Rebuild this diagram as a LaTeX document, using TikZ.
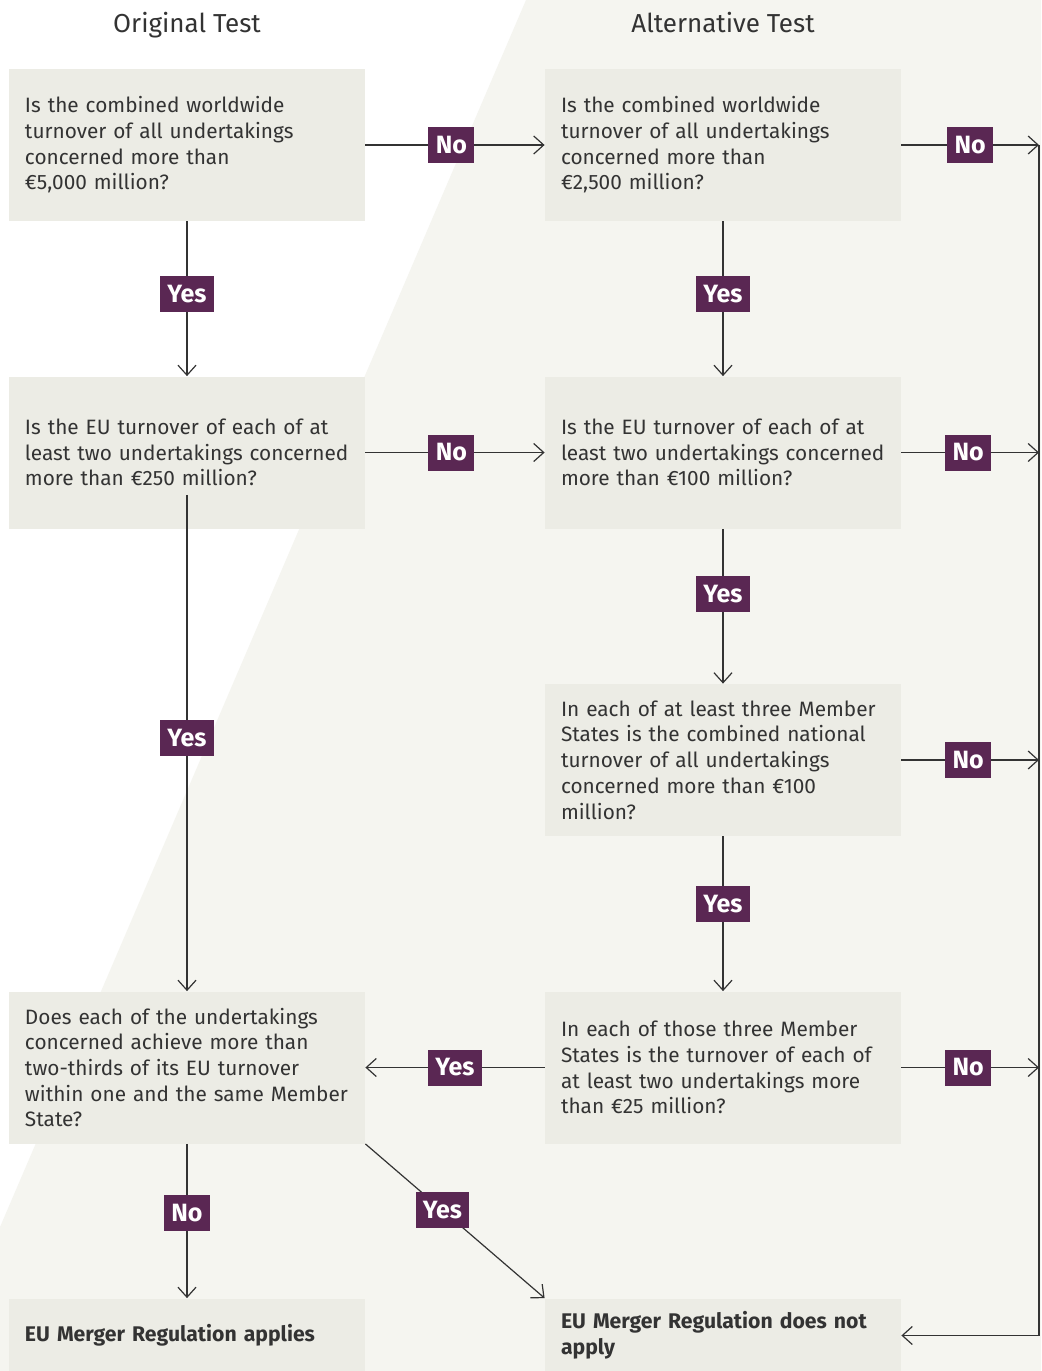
\documentclass[tikz,border=0pt]{standalone}
\usepackage{fontspec}
\setmainfont{Fira Sans}
\usepackage{tikz}
\usetikzlibrary{arrows.meta}
\definecolor{plum}{HTML}{5A2753}
\definecolor{boxgrey}{HTML}{ECECE5}
\definecolor{bgright}{HTML}{F5F5F0}
\definecolor{ink}{HTML}{333333}

\begin{document}
\begin{tikzpicture}[x=0.5pt, y=-0.5pt, node distance={153.75pt},
  >={Straight Barb[length=5pt,width=9pt]},
  main/.style = {fill=boxgrey, text=ink, text width=162pt, minimum height=76pt, inner xsep=8pt, align=left, font=\fontsize{10.4pt}{12.85pt}\selectfont},
  last/.style = {main, minimum height=37pt, font=\fontsize{10.6pt}{12.85pt}\selectfont\bfseries},
  lab/.style = {fill=plum, text=white, inner xsep=3.7pt, minimum height=18pt, font=\fontsize{12.5pt}{14pt}\selectfont\bfseries},
  title/.style = {text=ink, text height=9pt, text depth=3pt, font=\fontsize{13pt}{15pt}\selectfont}]
\useasboundingbox (0,0) rectangle (1041,1371);
\fill[white] (0,0) rectangle (1041,1371);
\fill[bgright] (526,0) -- (1041,0) -- (1041,1371) -- (0,1371) -- (0,1227) -- cycle;
\coordinate (rail) at (1039,0);

\node[main] (1) at (187,145) {Is the combined worldwide\\turnover of all undertakings\\concerned more than\\€5,000 million?};
\node[main] (2) [right of=1, node distance=268pt] {Is the combined worldwide\\turnover of all undertakings\\concerned more than\\€2,500 million?};
\node[main] (3) [below of=1] {Is the EU turnover of each of at\\least two undertakings concerned\\more than €250 million?};
\node[main] (4) [below of=2] {Is the EU turnover of each of at\\least two undertakings concerned\\more than €100 million?};
\node[main] (5) [below of=4] {In each of at least three Member\\States is the combined national\\turnover of all undertakings\\concerned more than €100\\million?};
\node[main] (7) [below of=5] {In each of those three Member\\States is the turnover of each of\\at least two undertakings more\\than €25 million?};
\node[main] (6) [left of=7, node distance=268pt] {Does each of the undertakings\\concerned achieve more than\\two-thirds of its EU turnover\\within one and the same Member\\State?};
\node[last] (8) [below of=6, node distance=134pt] {EU Merger Regulation applies};
\node[last] (9) [below of=7, node distance=134pt] {EU Merger Regulation does not\\apply};
\node[title] (t1) [above of=1, node distance=59.5pt] {Original Test};
\node[title] (t2) [above of=2, node distance=59.5pt] {Alternative Test};

\begin{scope}[ink, line width=0.6pt]
\draw[->] (1) -- node[lab, pos=0.48]{No} (2);
\draw[->] (1) -- node[lab, pos=0.47]{Yes} (3);
\draw[->] (2) -- node[lab, pos=0.47]{Yes} (4);
\draw[->] (3) -- node[lab, pos=0.48]{No} (4);
\draw[->] (4) -- node[lab, pos=0.42]{Yes} (5);
\draw[->] (5) -- node[lab, pos=0.44]{Yes} (7);
\draw[->] ([yshift=17pt]3.south) -- node[lab, pos=0.49]{Yes} (6);
\draw[->] (7) -- node[lab, pos=0.5]{Yes} (6);
\draw[->] (6) -- node[lab, pos=0.45]{No} (8);
\draw[->] (6.south east) -- node[lab, pos=0.43]{Yes} (9.north west);
\draw[->] (2) -- node[lab]{No} (2 -| rail);
\draw[->] (4) -- node[lab, xshift=-1pt]{No} (4 -| rail);
\draw[->] (5) -- node[lab, xshift=-1pt]{No} (5 -| rail);
\draw[->] (7) -- node[lab, xshift=-1pt]{No} (7 -| rail);
\draw[->] (2 -| rail) -- (9 -| rail) -- (9);
\end{scope}
\end{tikzpicture}
\end{document}
